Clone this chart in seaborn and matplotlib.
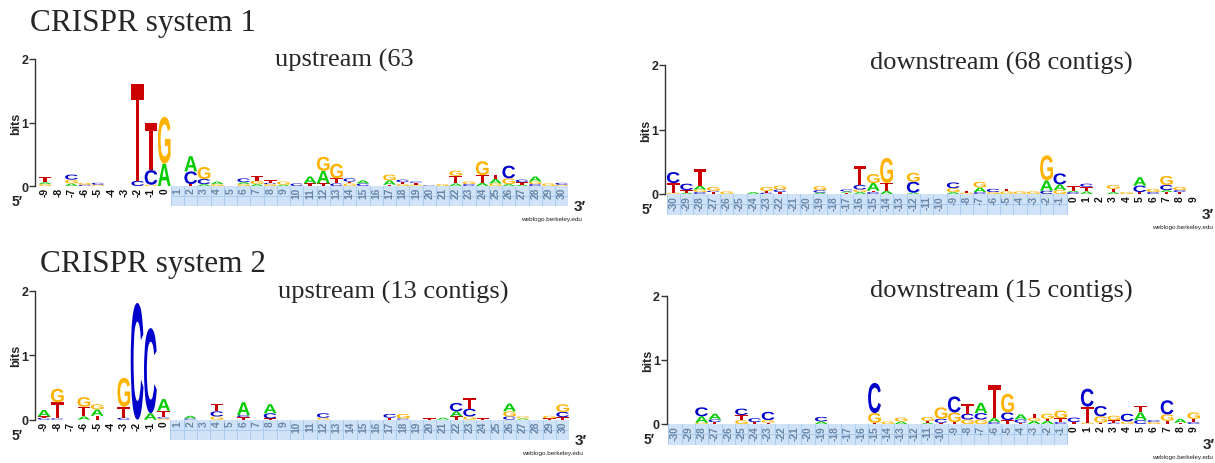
import numpy as np
import matplotlib
matplotlib.use("Agg")
import matplotlib.pyplot as plt
import seaborn as sns
from matplotlib.textpath import TextPath
from matplotlib.font_manager import FontProperties
from matplotlib.patches import PathPatch, Rectangle
from matplotlib.transforms import Affine2D

sns.set_style("white")
plt.rcParams['font.family'] = ['Liberation Sans', 'DejaVu Sans']

W, H = 1215, 464

# ------------------------------------------------------------
# DATA: letter stacks per position, bottom -> top ("letter:bits")
# ------------------------------------------------------------
up1_start = -9
up1_stacks = [
    "G:0.03 A:0.03 T:0.08", "", "A:0.04 G:0.06 C:0.08", "C:0.02 G:0.03", "G:0.02 C:0.03",
    "", "", "C:0.08 T:1.52", "G:0.02 C:0.23 T:0.74", "A:0.35 G:0.74",
    "", "T:0.03 C:0.2 A:0.24", "A:0.03 C:0.08 G:0.19", "G:0.03 A:0.04", "",
    "G:0.03 A:0.03 C:0.06", "A:0.03 G:0.05 T:0.08", "G:0.03 C:0.02 T:0.04", "A:0.02 G:0.05", "C:0.04",
    "T:0.04 A:0.11", "T:0.04 A:0.2 G:0.22", "C:0.04 T:0.08 G:0.23", "G:0.04 T:0.03 C:0.05", "C:0.04 A:0.05",
    "", "T:0.02 A:0.07 G:0.09", "G:0.03 T:0.03 C:0.04", "G:0.02 T:0.03 C:0.02", "C:0.01",
    "G:0.03", "A:0.04 T:0.12 G:0.08", "C:0.03 G:0.04", "A:0.05 T:0.12 G:0.22", "G:0.04 A:0.07 T:0.07",
    "A:0.03 G:0.09 C:0.2", "A:0.02 T:0.04 C:0.04", "C:0.03 G:0.04 A:0.08", "G:0.04", "G:0.02 C:0.03",
]

down1_start = -30
down1_stacks = [
    "G:0.02 T:0.15 C:0.17", "A:0.02 T:0.04 C:0.1", "C:0.03 G:0.04 A:0.06 T:0.25", "T:0.03 C:0.02 G:0.06", "G:0.04",
    "", "A:0.03", "C:0.02 T:0.03 G:0.06", "T:0.03 C:0.04 G:0.06", "",
    "", "A:0.02 C:0.04 G:0.06", "", "T:0.02 A:0.02 C:0.03", "A:0.03 G:0.04 C:0.07 T:0.3",
    "C:0.03 T:0.02 A:0.12 G:0.14", "A:0.05 T:0.12 G:0.39", "", "A:0.02 C:0.17 G:0.14", "",
    "", "A:0.03 G:0.06 C:0.09", "G:0.02 T:0.03", "C:0.03 A:0.07 G:0.09", "G:0.03 C:0.05",
    "G:0.04 T:0.04", "G:0.04", "G:0.04", "C:0.05 A:0.16 G:0.39", "G:0.06 A:0.09 C:0.17",
    "C:0.03 A:0.02 T:0.07", "A:0.04 T:0.07 C:0.05", "", "A:0.03 T:0.05 G:0.06", "G:0.03",
    "T:0.03 C:0.1 A:0.13", "C:0.03 G:0.05", "T:0.03 A:0.03 C:0.08 G:0.14", "T:0.03 C:0.03 G:0.05", "",
]

up2_start = -9
up2_stacks = [
    "C:0.03 T:0.02 A:0.1", "C:0.02 T:0.25 G:0.21", "", "A:0.05 T:0.15 G:0.15", "T:0.06 A:0.1 G:0.08",
    "", "C:0.03 T:0.17 G:0.45", "C:1.81", "A:0.1 C:1.32", "G:0.02 C:0.02 T:0.1 A:0.18",
    "", "C:0.02 A:0.04", "", "G:0.05 C:0.08 T:0.12", "",
    "T:0.04 C:0.03 A:0.2", "", "T:0.02 C:0.08 A:0.14", "", "",
    "", "G:0.03 C:0.07", "", "", "",
    "", "T:0.03 C:0.06", "C:0.02 G:0.07", "", "T:0.02",
    "A:0.03", "T:0.05 A:0.08 C:0.13", "G:0.05 C:0.12 T:0.17", "T:0.02", "",
    "C:0.05 G:0.08 A:0.12", "A:0.02 G:0.03", "", "T:0.02 G:0.04", "T:0.04 C:0.08 G:0.12",
]

down2_start = -30
down2_stacks = [
    "", "", "G:0.02 A:0.1 C:0.14", "T:0.03 C:0.04 A:0.09", "",
    "G:0.06 T:0.08 C:0.1", "T:0.03 C:0.06", "T:0.02 G:0.04 C:0.13", "", "",
    "", "A:0.04 C:0.07", "", "", "",
    "T:0.02 G:0.15 C:0.47", "G:0.04", "A:0.04 G:0.06", "", "A:0.02 T:0.03 G:0.06",
    "T:0.02 C:0.06 G:0.18", "T:0.03 G:0.15 C:0.25", "G:0.07 C:0.09 T:0.15", "G:0.07 C:0.1 A:0.16", "C:0.03 A:0.06 T:0.52",
    "T:0.06 C:0.12 G:0.29", "T:0.02 C:0.05 A:0.08", "A:0.05 G:0.04 T:0.07", "A:0.05 T:0.03 G:0.08", "C:0.03 T:0.06 G:0.12",
    "T:0.03 C:0.07", "G:0.02 T:0.25 C:0.28", "T:0.02 G:0.1 C:0.16", "C:0.02 T:0.04 G:0.07", "G:0.04 C:0.12",
    "C:0.06 A:0.12 T:0.1", "G:0.03 C:0.03", "T:0.05 G:0.1 C:0.22", "T:0.02 A:0.06", "C:0.03 T:0.05 G:0.1",
]

# shaded (flanking-region) positions for each logo
up_shade = (1, 30)
down_shade = (-30, -1)

titles = ["CRISPR system 1", "CRISPR system 2"]
subtitles = ["upstream (63", "downstream (68 contigs)", "upstream (13 contigs)", "downstream (15 contigs)"]

letter_colors = {'A': '#00cc00', 'C': '#0000cc', 'G': '#ffb300', 'T': '#cc0000'}
glyph_font = FontProperties(family='Liberation Sans', weight='bold')
glyphs = {}
for L in 'ACGT':
    p = TextPath((0, 0), L, size=1, prop=glyph_font)
    glyphs[L] = (p, p.get_extents())

DEPTH = 0.32


def draw_letter(ax, L, x, y, w, h):
    path, bb = glyphs[L]
    tr = (Affine2D().translate(-bb.x0, -bb.y0)
          .scale(w / bb.width, h / bb.height)
          .translate(x - w / 2, y))
    ax.add_patch(PathPatch(tr.transform_path(path), facecolor=letter_colors[L],
                           edgecolor='none', zorder=3))


def draw_logo(spine_x, first_c, step, y0, y2, start, stacks, shade, end_gap):
    n = len(stacks)
    end = start + n - 1
    ppb = (y0 - y2) / 2.0
    left_px = spine_x
    right_px = first_c + (n - 1) * step + step / 2
    bottom_px = y0 + DEPTH * ppb
    ax = fig.add_axes([left_px / W, 1 - bottom_px / H,
                       (right_px - left_px) / W, (bottom_px - y2) / H])
    ax.patch.set_alpha(0)
    gap = (first_c - step / 2 - spine_x) / step
    ax.set_xlim(start - 0.5 - gap, end + 0.5)
    ax.set_ylim(-DEPTH, 2)

    # shaded band under the flanking positions
    lo, hi = shade
    ax.add_patch(Rectangle((lo - 0.5, -DEPTH), hi - lo + 1, DEPTH,
                           facecolor='#cfe2f8', edgecolor='none', zorder=1))
    for b in np.arange(lo - 0.5, hi + 1.5, 1.0):
        ax.plot([b, b], [-DEPTH, 0], color='#a8cbf0', lw=0.7, zorder=1.5)
    ax.plot([lo - 0.5, hi + 0.5], [-DEPTH / 2, -DEPTH / 2], color='#a8cbf0', lw=0.7, zorder=1.5)

    # letters
    for i, s in enumerate(stacks):
        pos = start + i
        ybase = 0.0
        for tok in s.split():
            L, h = tok.split(':')
            h = float(h)
            draw_letter(ax, L, pos, ybase, 0.96, h)
            ybase += h
        in_shade = lo <= pos <= hi
        ax.text(pos, -0.015, str(pos), rotation=90, ha='center', va='top',
                fontsize=7.4, fontweight='bold',
                color='#6a86a6' if in_shade else '#111111', zorder=2)

    sns.despine(ax=ax, top=True, right=True, bottom=True)
    ax.spines['left'].set_bounds(0, 2)
    ax.spines['left'].set_color('#333333')
    ax.spines['left'].set_linewidth(1.0)
    ax.set_xticks([])
    ax.set_yticks([0, 1, 2])
    ax.set_yticklabels(['0', '1', '2'], fontsize=9, fontweight='bold')
    ax.tick_params(axis='y', left=True, length=4, width=1, pad=1, color='#333333')
    ax.set_ylabel('bits', fontsize=9, fontweight='bold')
    ax.yaxis.set_label_coords(-13 / (right_px - left_px), (1 + DEPTH) / (2 + DEPTH))

    # 5' / 3' ends and credit
    fig.text((spine_x - 23) / W, 1 - (y0 + 19) / H, '5\u2032', fontsize=10,
             fontweight='bold', va='baseline', ha='left')
    fig.text((right_px + end_gap) / W, 1 - (y0 + 24) / H, '3\u2032', fontsize=11,
             fontweight='bold', va='baseline', ha='left')
    fig.text(min(right_px + 14, W - 2) / W, 1 - (y0 + 34) / H, 'weblogo.berkeley.edu',
             fontsize=4.6, va='baseline', ha='right', color='#222222')
    return ax


fig = plt.figure(figsize=(W / 100, H / 100), dpi=100)

draw_logo(35, 45, 13.25, 187, 60, up1_start, up1_stacks, up_shade, 5)
draw_logo(665, 673.3, 13.33, 195, 66, down1_start, down1_stacks, down_shade, 2)
draw_logo(35, 44, 13.3, 420.7, 291.7, up2_start, up2_stacks, up_shade, 5)
draw_logo(666.7, 675, 13.3, 425, 296.7, down2_start, down2_stacks, down_shade, 2)

serif = ['Liberation Serif', 'DejaVu Serif']
fig.text(30 / W, 1 - 31 / H, titles[0], fontsize=22.5, family=serif, va='baseline')
fig.text(40 / W, 1 - 272 / H, titles[1], fontsize=22.5, family=serif, va='baseline')
fig.text(275 / W, 1 - 67 / H, subtitles[0], fontsize=19, family=serif, va='baseline')
fig.text(870 / W, 1 - 70 / H, subtitles[1], fontsize=19, family=serif, va='baseline')
fig.text(278 / W, 1 - 299 / H, subtitles[2], fontsize=19, family=serif, va='baseline')
fig.text(870 / W, 1 - 298 / H, subtitles[3], fontsize=19, family=serif, va='baseline')

fig.savefig('out.png', dpi=100)
